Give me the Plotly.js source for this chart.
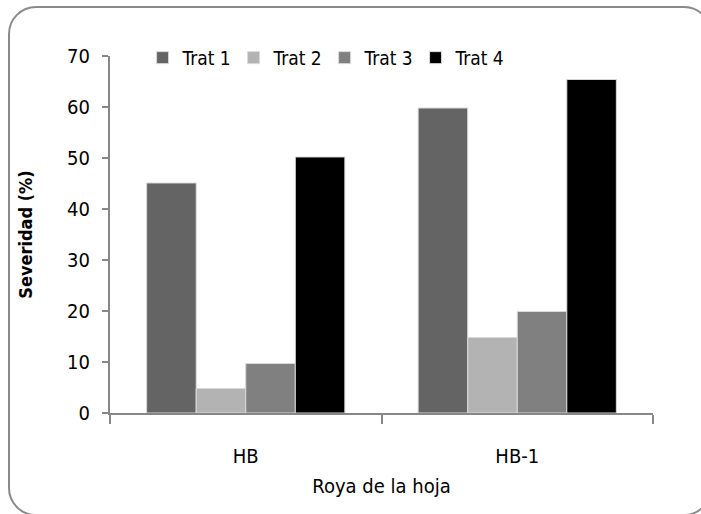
<!DOCTYPE html>
<html>
<head>
<meta charset="utf-8">
<script src="https://cdn.plot.ly/plotly-3.0.1.min.js"></script>
<style>
  html, body { margin: 0; padding: 0; background: #ffffff; }
  #wrap { position: relative; width: 701px; height: 514px; overflow: hidden; }
  #chart { position: absolute; left: 0; top: 0; width: 701px; height: 514px; }
  #frame {
    position: absolute; left: 8px; top: 6px; width: 700px; height: 506px;
    border: 2.5px solid #8a8a8a; border-radius: 28px; pointer-events: none;
  }
</style>
</head>
<body>
<div id="wrap">
  <div id="chart"></div>
  <div id="frame"></div>
</div>
<script>
// Leaf rust severity by treatment
const categories = ["HB", "HB-1"];
const seriesNames = ["Trat 1", "Trat 2", "Trat 3", "Trat 4"];
const trat1 = [45.1, 59.8];
const trat2 = [4.8, 14.8];
const trat3 = [9.7, 19.9];
const trat4 = [50.2, 65.4];
const yTicks = [0, 10, 20, 30, 40, 50, 60, 70];

const seriesValues = [trat1, trat2, trat3, trat4];
const seriesColors = ["#646464", "#b3b3b3", "#808080", "#000000"];

const FONT = "'Liberation Sans Narrow', 'Arial Narrow', 'DejaVu Sans Condensed', sans-serif";

const traces = seriesNames.map((name, i) => ({
  type: "bar",
  name: name,
  x: categories,
  y: seriesValues[i],
  marker: { color: seriesColors[i], line: { color: "#d9d9d9", width: 1 } },
  hoverinfo: "x+y+name"
}));

const layout = {
  width: 701,
  height: 514,
  margin: { l: 110, r: 48, t: 56, b: 101 },
  paper_bgcolor: "#ffffff",
  plot_bgcolor: "#ffffff",
  barmode: "group",
  bargap: 0.27,
  bargroupgap: 0,
  showlegend: true,
  legend: {
    orientation: "h",
    x: 0.06, xanchor: "left",
    y: 0.995, yanchor: "middle",
    font: { family: FONT, size: 19, color: "#000000" },
    itemwidth: 30,
    entrywidth: 46,
    entrywidthmode: "pixels",
    tracegroupgap: 0,
    bgcolor: "rgba(0,0,0,0)"
  },
  xaxis: {
    type: "category",
    showline: true,
    linecolor: "#878787",
    linewidth: 2,
    ticks: "outside",
    tickson: "boundaries",
    ticklen: 9,
    tickwidth: 2,
    tickcolor: "#878787",
    showgrid: false,
    zeroline: false,
    ticklabelstandoff: 24,
    tickfont: { family: FONT, size: 20, color: "#000000" },
    title: { text: "Roya de la hoja", font: { family: FONT, size: 20, color: "#000000" }, standoff: 12 }
  },
  yaxis: {
    range: [0, 70],
    tickvals: yTicks,
    ticktext: yTicks.map(String),
    showline: true,
    linecolor: "#878787",
    linewidth: 2,
    ticks: "outside",
    ticklen: 6,
    tickwidth: 2,
    tickcolor: "#878787",
    showgrid: false,
    zeroline: false,
    ticklabelstandoff: 8,
    tickfont: { family: FONT, size: 20, color: "#000000" },
    title: { text: "<b>Severidad (%)</b>", font: { family: FONT, size: 18, color: "#000000" }, standoff: 30 }
  }
};

Plotly.newPlot("chart", traces, layout, { displayModeBar: false, staticPlot: true });
</script>
</body>
</html>
